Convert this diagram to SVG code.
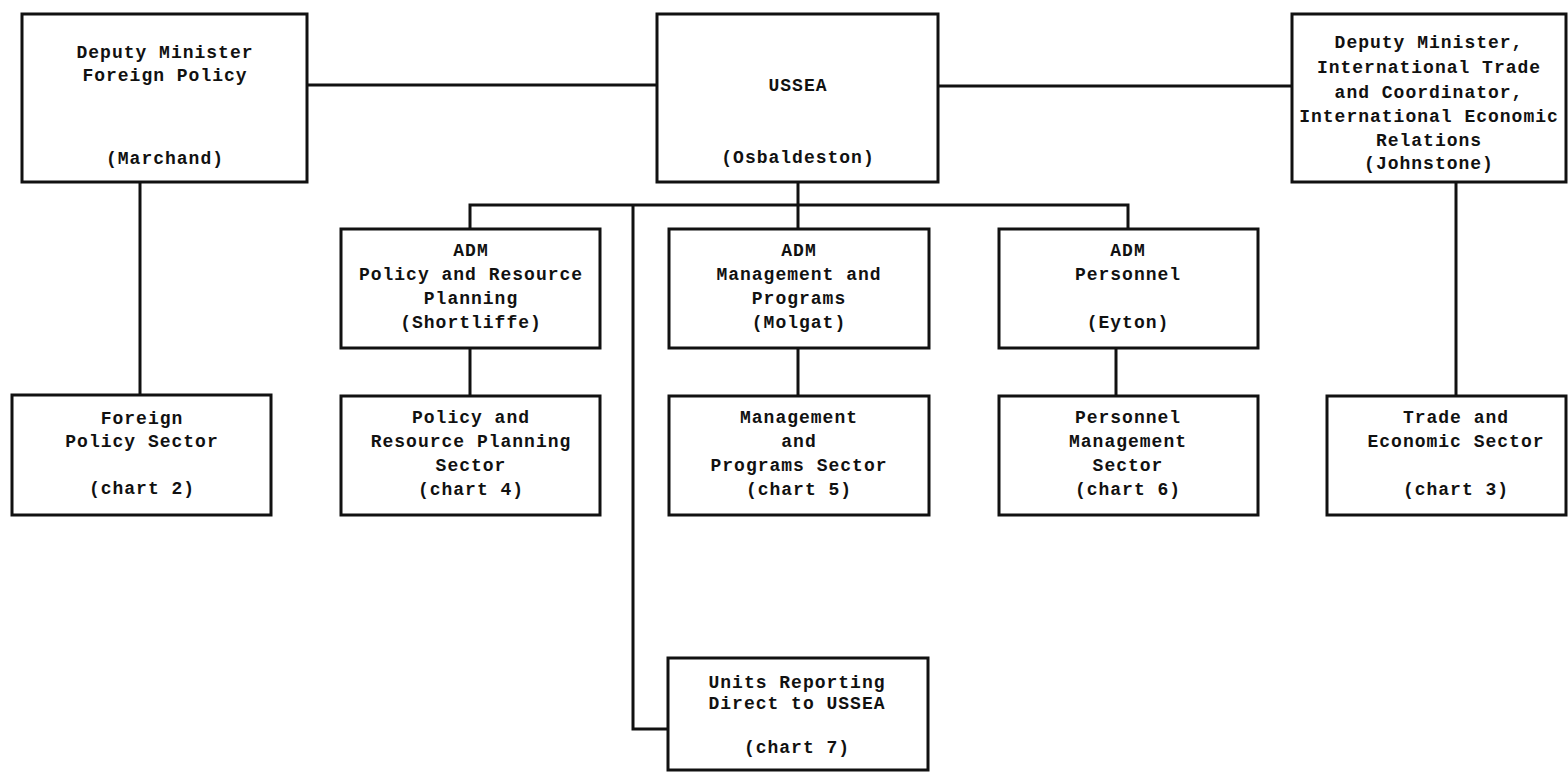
<svg xmlns="http://www.w3.org/2000/svg" width="1568" height="776" viewBox="0 0 1568 776">
<style>
.box{fill:#fff;stroke:#111;stroke-width:3}
.ln{fill:none;stroke:#111;stroke-width:3}
text{font-family:"Liberation Mono","DejaVu Sans Mono",monospace;font-weight:bold;font-size:18px;letter-spacing:1px;fill:#111;text-anchor:middle}
</style>
<rect width="1568" height="776" fill="#fff"/>
<g id="connectors">
<line class="ln" x1="307" y1="85" x2="657" y2="85"/>
<line class="ln" x1="938" y1="86" x2="1292" y2="86"/>
<line class="ln" x1="140" y1="182" x2="140" y2="395"/>
<line class="ln" x1="798" y1="182" x2="798" y2="205"/>
<polyline class="ln" points="470,229 470,205 1128,205 1128,229"/>
<line class="ln" x1="798" y1="205" x2="798" y2="229"/>
<line class="ln" x1="470" y1="348" x2="470" y2="396"/>
<line class="ln" x1="798" y1="348" x2="798" y2="396"/>
<line class="ln" x1="1116" y1="348" x2="1116" y2="396"/>
<line class="ln" x1="1456" y1="182" x2="1456" y2="396"/>
<polyline class="ln" points="633,205 633,729 668,729"/>
</g>
<g id="dm-foreign">
<rect class="box" x="22" y="14" width="285" height="168"/>
<text x="165" y="58">Deputy Minister</text>
<text x="165" y="81">Foreign Policy</text>
<text x="165" y="164">(Marchand)</text>
</g>
<g id="ussea">
<rect class="box" x="657" y="14" width="281" height="168"/>
<text x="798" y="91">USSEA</text>
<text x="798" y="163">(Osbaldeston)</text>
</g>
<g id="dm-trade">
<rect class="box" x="1292" y="14" width="274" height="168"/>
<text x="1429" y="48">Deputy Minister,</text>
<text x="1429" y="73">International Trade</text>
<text x="1429" y="98">and Coordinator,</text>
<text x="1429" y="122">International Economic</text>
<text x="1429" y="146">Relations</text>
<text x="1429" y="169">(Johnstone)</text>
</g>
<g id="adm-policy">
<rect class="box" x="341" y="229" width="259" height="119"/>
<text x="471" y="256">ADM</text>
<text x="471" y="280">Policy and Resource</text>
<text x="471" y="304">Planning</text>
<text x="471" y="328">(Shortliffe)</text>
</g>
<g id="adm-management">
<rect class="box" x="669" y="229" width="260" height="119"/>
<text x="799" y="256">ADM</text>
<text x="799" y="280">Management and</text>
<text x="799" y="304">Programs</text>
<text x="799" y="328">(Molgat)</text>
</g>
<g id="adm-personnel">
<rect class="box" x="999" y="229" width="259" height="119"/>
<text x="1128" y="256">ADM</text>
<text x="1128" y="280">Personnel</text>
<text x="1128" y="328">(Eyton)</text>
</g>
<g id="foreign-policy-sector">
<rect class="box" x="12" y="395" width="259" height="120"/>
<text x="142" y="424">Foreign</text>
<text x="142" y="447">Policy Sector</text>
<text x="142" y="494">(chart 2)</text>
</g>
<g id="policy-sector">
<rect class="box" x="341" y="396" width="259" height="119"/>
<text x="471" y="423">Policy and</text>
<text x="471" y="447">Resource Planning</text>
<text x="471" y="471">Sector</text>
<text x="471" y="495">(chart 4)</text>
</g>
<g id="management-sector">
<rect class="box" x="669" y="396" width="260" height="119"/>
<text x="799" y="423">Management</text>
<text x="799" y="447">and</text>
<text x="799" y="471">Programs Sector</text>
<text x="799" y="495">(chart 5)</text>
</g>
<g id="personnel-sector">
<rect class="box" x="999" y="396" width="259" height="119"/>
<text x="1128" y="423">Personnel</text>
<text x="1128" y="447">Management</text>
<text x="1128" y="471">Sector</text>
<text x="1128" y="495">(chart 6)</text>
</g>
<g id="trade-sector">
<rect class="box" x="1327" y="396" width="239" height="119"/>
<text x="1456" y="423">Trade and</text>
<text x="1456" y="447">Economic Sector</text>
<text x="1456" y="495">(chart 3)</text>
</g>
<g id="units-direct">
<rect class="box" x="668" y="658" width="260" height="112"/>
<text x="797" y="688">Units Reporting</text>
<text x="797" y="709">Direct to USSEA</text>
<text x="797" y="753">(chart 7)</text>
</g>
</svg>
